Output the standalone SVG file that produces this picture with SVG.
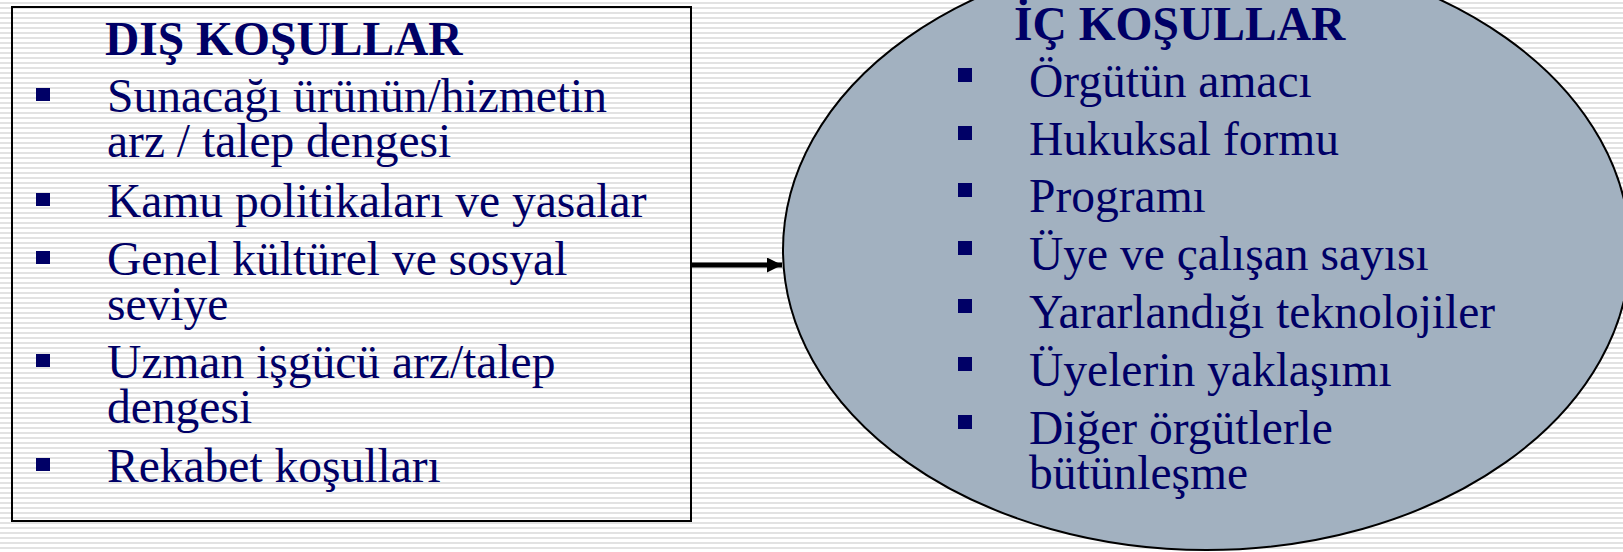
<svg xmlns="http://www.w3.org/2000/svg" width="1623" height="552" viewBox="0 0 1623 552">
  <defs>
    <pattern id="stripes" x="0" y="2" width="10" height="5" patternUnits="userSpaceOnUse">
      <rect width="10" height="5" fill="#ffffff"/>
      <rect width="10" height="2" fill="#e2e2e2"/>
    </pattern>
    <marker id="arrow" viewBox="0 0 15 15" refX="15" refY="7.5" markerWidth="15" markerHeight="15" markerUnits="userSpaceOnUse" orient="auto">
      <path d="M0,0 L15,7.5 L0,15 Z" fill="#000"/>
    </marker>
    <style>
      .t { font-family: "Liberation Serif", "Times New Roman", serif; font-size: 47.5px; fill: #000066; }
      .h { font-weight: bold; }
      .b { fill: #000066; }
      .frame { fill: none; stroke: #000; stroke-width: 2; }
      .oval { fill: #a2b1c0; stroke: #000; stroke-width: 2; }
      .conn { stroke: #000; stroke-width: 5; fill: none; }
    </style>
  </defs>
  <rect width="1623" height="552" fill="url(#stripes)"/>

  <g id="dis-kosullar">
    <rect class="frame" x="12" y="7" width="679" height="514"/>
    <text class="t h" x="105" y="55">DIŞ KOŞULLAR</text>
    <rect class="b" x="36" y="88" width="14" height="13"/>
    <text class="t" x="107" y="112">Sunacağı ürünün/hizmetin<tspan x="107" dy="45">arz / talep dengesi</tspan></text>
    <rect class="b" x="36" y="193" width="14" height="13"/>
    <text class="t" x="107" y="217">Kamu politikaları ve yasalar</text>
    <rect class="b" x="36" y="251" width="14" height="13"/>
    <text class="t" x="107" y="275">Genel kültürel ve sosyal<tspan x="107" dy="45">seviye</tspan></text>
    <rect class="b" x="36" y="354" width="14" height="13"/>
    <text class="t" x="107" y="378">Uzman işgücü arz/talep<tspan x="107" dy="45">dengesi</tspan></text>
    <rect class="b" x="36" y="458" width="14" height="13"/>
    <text class="t" x="107" y="482">Rekabet koşulları</text>
  </g>

  <g id="ic-kosullar">
    <ellipse class="oval" cx="1206.5" cy="250" rx="423.5" ry="300"/>
    <text class="t h" x="1014" y="40">İÇ KOŞULLAR</text>
    <rect class="b" x="958" y="68" width="14" height="14"/>
    <text class="t" x="1029" y="97">Örgütün amacı</text>
    <rect class="b" x="958" y="126" width="14" height="14"/>
    <text class="t" x="1029" y="155">Hukuksal formu</text>
    <rect class="b" x="958" y="183" width="14" height="14"/>
    <text class="t" x="1029" y="212">Programı</text>
    <rect class="b" x="958" y="241" width="14" height="14"/>
    <text class="t" x="1029" y="270">Üye ve çalışan sayısı</text>
    <rect class="b" x="958" y="299" width="14" height="14"/>
    <text class="t" x="1029" y="328">Yararlandığı teknolojiler</text>
    <rect class="b" x="958" y="357" width="14" height="14"/>
    <text class="t" x="1029" y="386">Üyelerin yaklaşımı</text>
    <rect class="b" x="958" y="415" width="14" height="14"/>
    <text class="t" x="1029" y="444">Diğer örgütlerle<tspan x="1029" dy="45">bütünleşme</tspan></text>
  </g>

  <g id="connectors">
    <line class="conn" x1="692" y1="265" x2="782" y2="265" marker-end="url(#arrow)"/>
  </g>
</svg>
